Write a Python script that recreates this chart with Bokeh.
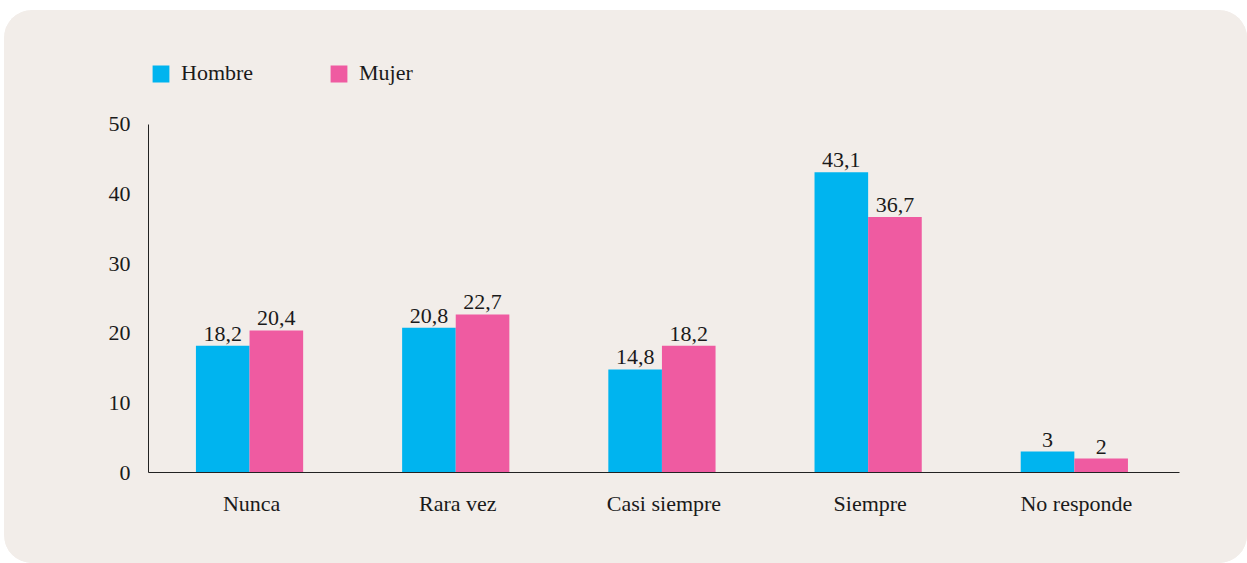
from bokeh.plotting import figure
from bokeh.models import ColumnDataSource, FactorRange, Range1d, FixedTicker, Legend, LegendItem
from bokeh.transform import dodge
from bokeh.core.properties import value
from bokeh.embed import file_html
from bokeh.resources import INLINE

categories = ["Nunca", "Rara vez", "Casi siempre", "Siempre", "No responde"]
hombre = [18.2, 20.8, 14.8, 43.1, 3]
mujer = [20.4, 22.7, 18.2, 36.7, 2]
y_ticks = [0, 10, 20, 30, 40, 50]

def fmt(v):
    s = ("%g" % v)
    return s.replace(".", ",")

src = ColumnDataSource(dict(
    cat=categories,
    hombre=hombre,
    mujer=mujer,
    hl=[fmt(v) for v in hombre],
    ml=[fmt(v) for v in mujer],
))

BG = "#f2ede9"
FONT = "Liberation Serif"
TXT = "#1a1a1a"
BLUE = "#00b4ef"
PINK = "#ef5ba1"

p = figure(width=1243, height=553, x_range=FactorRange(*categories),
           y_range=Range1d(0, 60.6), output_backend="svg", toolbar_location=None,
           min_border_left=144, min_border_right=68, min_border_top=40,
           min_border_bottom=91)
p.margin = (10, 0, 0, 4)
p.background_fill_color = BG
p.border_fill_color = BG
p.outline_line_color = None
p.styles = {"border-radius": "28px", "overflow": "hidden", "background-color": BG}

bw = 0.26
rh = p.vbar(x=dodge("cat", -bw / 2 - 0.01, range=p.x_range), top="hombre", width=bw,
            source=src, fill_color=BLUE, line_color=None)
rm = p.vbar(x=dodge("cat", bw / 2 - 0.01, range=p.x_range), top="mujer", width=bw,
            source=src, fill_color=PINK, line_color=None)

for col, lab, off in (("hombre", "hl", -bw / 2 - 0.01), ("mujer", "ml", bw / 2 - 0.01)):
    p.text(x=dodge("cat", off, range=p.x_range), y=col, text=lab, source=src,
           text_align="center", text_baseline="bottom", y_offset=-5,
           text_font=value(FONT), text_font_size="22px", text_color=TXT)

p.xgrid.visible = False
p.ygrid.visible = False

p.yaxis.ticker = FixedTicker(ticks=y_ticks)
p.yaxis.bounds = (0, 50)
for ax in (p.xaxis[0], p.yaxis[0]):
    ax.major_tick_line_color = None
    ax.minor_tick_line_color = None
    ax.major_tick_out = 0
    ax.major_tick_in = 0
    ax.axis_line_color = "#222222"
    ax.axis_line_width = 1
    ax.major_label_text_font = FONT
    ax.major_label_text_font_size = "22px"
    ax.major_label_text_color = TXT
p.yaxis.major_label_standoff = 18
p.xaxis.major_label_standoff = 18

legend = Legend(items=[LegendItem(label="Hombre", renderers=[rh]),
                       LegendItem(label="Mujer", renderers=[rm])],
                orientation="horizontal", location=(2, 386),
                glyph_width=21, glyph_height=21, label_standoff=10,
                label_width=137, spacing=10, padding=0, margin=0,
                border_line_alpha=0, background_fill_alpha=0,
                label_text_font=FONT, label_text_font_size="22px",
                label_text_color=TXT)
p.add_layout(legend, "center")

open("out.html", "w").write(file_html(p, INLINE))
